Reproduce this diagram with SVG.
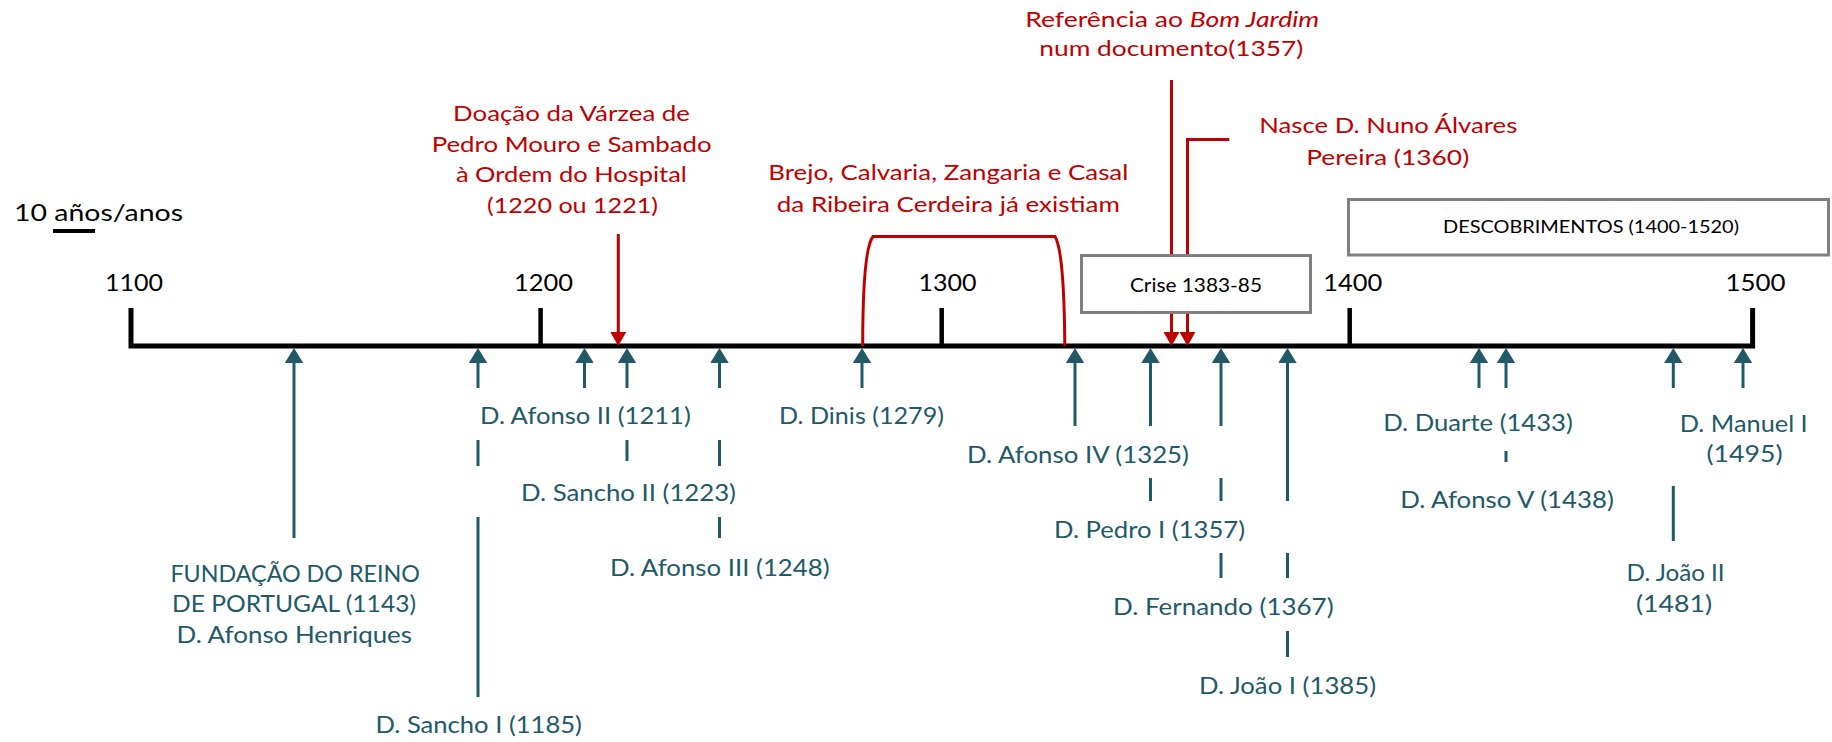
<svg xmlns="http://www.w3.org/2000/svg" width="1832" height="742" viewBox="0 0 1832 742">
<style>
text{font-family:Lato,"Open Sans","Liberation Sans",sans-serif}
.ax{font-size:24px;fill:#000;text-anchor:middle}
.tl{font-size:22.5px;fill:#215968;text-anchor:middle}
.rd{font-size:22px;fill:#C00000;text-anchor:middle}
.bx{fill:#fff;stroke:#808080;stroke-width:3}
.bt{fill:#000;text-anchor:middle}
.ta{stroke:#215968;stroke-width:3;fill:none}
.ra{stroke:#C00000;stroke-width:3;fill:none}
</style>
<defs>
<marker id="th" markerUnits="userSpaceOnUse" markerWidth="20" markerHeight="20" refX="0" refY="9.2" orient="auto" overflow="visible"><path d="M0,0 L15,9.2 L0,18.4 z" fill="#215968"/></marker>
<marker id="rh" markerUnits="userSpaceOnUse" markerWidth="20" markerHeight="20" refX="0" refY="8" orient="auto" overflow="visible"><path d="M0,0 L14,8 L0,16 z" fill="#C00000"/></marker>
</defs>
<rect width="1832" height="742" fill="#fff"/>

<g id="scale">
<text x="14" y="221" font-size="24" fill="#000" textLength="169" lengthAdjust="spacingAndGlyphs">10 años/anos</text>
<line x1="53" y1="231" x2="95" y2="231" stroke="#000" stroke-width="4"/>
</g>

<g id="axis">
<path d="M131,308 V346 H1752.6 V308" fill="none" stroke="#000" stroke-width="5"/>
<line x1="540.6" y1="308" x2="540.6" y2="346" stroke="#000" stroke-width="4.5"/>
<line x1="941.7" y1="308" x2="941.7" y2="346" stroke="#000" stroke-width="4.5"/>
<line x1="1349.7" y1="308" x2="1349.7" y2="346" stroke="#000" stroke-width="4.5"/>
<text class="ax" x="134" y="291" textLength="58" lengthAdjust="spacingAndGlyphs">1100</text>
<text class="ax" x="543.5" y="291" textLength="59" lengthAdjust="spacingAndGlyphs">1200</text>
<text class="ax" x="947.5" y="291" textLength="58" lengthAdjust="spacingAndGlyphs">1300</text>
<text class="ax" x="1352.7" y="291" textLength="59" lengthAdjust="spacingAndGlyphs">1400</text>
<text class="ax" x="1755.4" y="291" textLength="60" lengthAdjust="spacingAndGlyphs">1500</text>
</g>

<g id="connectors">
<!-- red event arrows -->
<line class="ra" x1="618.3" y1="234" x2="618.3" y2="332" marker-end="url(#rh)"/>
<line class="ra" x1="1171.5" y1="80" x2="1171.5" y2="332" marker-end="url(#rh)"/>
<polyline class="ra" points="1229.3,139.5 1187.5,139.5 1187.5,332" marker-end="url(#rh)"/>
<path class="ra" d="M862.7,346 C862.7,300 864,248 873,236.5 L1055,236.5 C1062,248 1064.5,300 1064.8,346"/>
<!-- teal king arrows -->
<line class="ta" x1="294" y1="538" x2="294" y2="363" marker-end="url(#th)"/>
<line class="ta" x1="478" y1="388" x2="478" y2="363" marker-end="url(#th)"/>
<line class="ta" x1="478" y1="440" x2="478" y2="466"/>
<line class="ta" x1="478" y1="517" x2="478" y2="697"/>
<line class="ta" x1="584.5" y1="388" x2="584.5" y2="363" marker-end="url(#th)"/>
<line class="ta" x1="627" y1="388" x2="627" y2="363" marker-end="url(#th)"/>
<line class="ta" x1="627" y1="440" x2="627" y2="461"/>
<line class="ta" x1="719.5" y1="388" x2="719.5" y2="363" marker-end="url(#th)"/>
<line class="ta" x1="719.5" y1="440" x2="719.5" y2="466"/>
<line class="ta" x1="719.5" y1="517" x2="719.5" y2="538"/>
<line class="ta" x1="862" y1="388" x2="862" y2="363" marker-end="url(#th)"/>
<line class="ta" x1="1075" y1="426" x2="1075" y2="363" marker-end="url(#th)"/>
<line class="ta" x1="1150.5" y1="426" x2="1150.5" y2="363" marker-end="url(#th)"/>
<line class="ta" x1="1150.5" y1="478" x2="1150.5" y2="501"/>
<line class="ta" x1="1221" y1="426" x2="1221" y2="363" marker-end="url(#th)"/>
<line class="ta" x1="1221" y1="478" x2="1221" y2="501"/>
<line class="ta" x1="1221" y1="553" x2="1221" y2="578"/>
<line class="ta" x1="1287.5" y1="501" x2="1287.5" y2="363" marker-end="url(#th)"/>
<line class="ta" x1="1287.5" y1="553" x2="1287.5" y2="578"/>
<line class="ta" x1="1287.5" y1="631" x2="1287.5" y2="657"/>
<line class="ta" x1="1479" y1="388" x2="1479" y2="363" marker-end="url(#th)"/>
<line class="ta" x1="1506" y1="388" x2="1506" y2="363" marker-end="url(#th)"/>
<line class="ta" x1="1506" y1="451" x2="1506" y2="462"/>
<line class="ta" x1="1673.3" y1="388" x2="1673.3" y2="363" marker-end="url(#th)"/>
<line class="ta" x1="1673.3" y1="486" x2="1673.3" y2="541"/>
<line class="ta" x1="1743" y1="388" x2="1743" y2="363" marker-end="url(#th)"/>
</g>

<g id="crise">
<rect class="bx" x="1081.5" y="255.5" width="229" height="57"/>
<text class="bt" x="1196" y="291.5" font-size="19.5" textLength="132" lengthAdjust="spacingAndGlyphs">Crise 1383-85</text>
</g>
<g id="descobrimentos">
<rect class="bx" x="1348.5" y="199.5" width="480" height="55.5"/>
<text class="bt" x="1591" y="233.3" font-size="18" textLength="296" lengthAdjust="spacingAndGlyphs">DESCOBRIMENTOS (1400-1520)</text>
</g>

<g id="doacao">
<text class="rd" x="571.5" y="120.7" textLength="237" lengthAdjust="spacingAndGlyphs">Doação da Várzea de</text>
<text class="rd" x="571.7" y="151.7" textLength="280" lengthAdjust="spacingAndGlyphs">Pedro Mouro e Sambado</text>
<text class="rd" x="571.4" y="182.3" textLength="231" lengthAdjust="spacingAndGlyphs">à Ordem do Hospital</text>
<text class="rd" x="572.5" y="213.3" textLength="171" lengthAdjust="spacingAndGlyphs">(1220 ou 1221)</text>
</g>
<g id="brejo">
<text class="rd" x="948.3" y="180" textLength="360" lengthAdjust="spacingAndGlyphs">Brejo, Calvaria,  Zangaria  e Casal</text>
<text class="rd" x="948.3" y="211.7" textLength="343" lengthAdjust="spacingAndGlyphs">da Ribeira Cerdeira já existiam</text>
</g>
<g id="referencia">
<text class="rd" x="1172.2" y="26.7" textLength="294" lengthAdjust="spacingAndGlyphs">Referência ao <tspan font-style="italic">Bom Jardim</tspan></text>
<text class="rd" x="1171.3" y="56" textLength="264" lengthAdjust="spacingAndGlyphs">num documento(1357)</text>
</g>
<g id="nuno">
<text class="rd" x="1388.3" y="133.3" textLength="258" lengthAdjust="spacingAndGlyphs">Nasce D. Nuno Álvares</text>
<text class="rd" x="1387.7" y="165" textLength="163" lengthAdjust="spacingAndGlyphs">Pereira (1360)</text>
</g>

<g id="fundacao">
<text class="tl" x="295.2" y="582.3" textLength="249.6" lengthAdjust="spacingAndGlyphs">FUNDAÇÃO DO REINO</text>
<text class="tl" x="294" y="612" textLength="244" lengthAdjust="spacingAndGlyphs">DE PORTUGAL (1143)</text>
<text class="tl" x="294.3" y="642.5" textLength="235.5" lengthAdjust="spacingAndGlyphs">D. Afonso Henriques</text>
</g>
<g id="sancho1"><text class="tl" x="478.7" y="733" textLength="206.5" lengthAdjust="spacingAndGlyphs">D. Sancho I (1185)</text></g>
<g id="afonso2"><text class="tl" x="585.4" y="424" textLength="210.8" lengthAdjust="spacingAndGlyphs">D. Afonso II (1211)</text></g>
<g id="sancho2"><text class="tl" x="628.5" y="501" textLength="215" lengthAdjust="spacingAndGlyphs">D. Sancho II (1223)</text></g>
<g id="afonso3"><text class="tl" x="719.8" y="576" textLength="219.6" lengthAdjust="spacingAndGlyphs">D. Afonso III (1248)</text></g>
<g id="dinis"><text class="tl" x="861.5" y="424" textLength="165" lengthAdjust="spacingAndGlyphs">D. Dinis (1279)</text></g>
<g id="afonso4"><text class="tl" x="1078" y="463.3" textLength="222" lengthAdjust="spacingAndGlyphs">D. Afonso IV (1325)</text></g>
<g id="pedro1"><text class="tl" x="1149.5" y="538.3" textLength="191" lengthAdjust="spacingAndGlyphs">D. Pedro I (1357)</text></g>
<g id="fernando"><text class="tl" x="1223.3" y="615" textLength="220.6" lengthAdjust="spacingAndGlyphs">D. Fernando (1367)</text></g>
<g id="joao1"><text class="tl" x="1287.5" y="694" textLength="177" lengthAdjust="spacingAndGlyphs">D. João I (1385)</text></g>
<g id="duarte"><text class="tl" x="1478" y="430.7" textLength="189.7" lengthAdjust="spacingAndGlyphs">D. Duarte (1433)</text></g>
<g id="afonso5"><text class="tl" x="1507" y="507.7" textLength="213.7" lengthAdjust="spacingAndGlyphs">D. Afonso V (1438)</text></g>
<g id="manuel1">
<text class="tl" x="1743.7" y="431.7" textLength="128" lengthAdjust="spacingAndGlyphs">D. Manuel I</text>
<text class="tl" x="1744.5" y="461.7" textLength="76" lengthAdjust="spacingAndGlyphs">(1495)</text>
</g>
<g id="joao2">
<text class="tl" x="1675.6" y="580.7" textLength="98" lengthAdjust="spacingAndGlyphs">D. João II</text>
<text class="tl" x="1674" y="611.7" textLength="76" lengthAdjust="spacingAndGlyphs">(1481)</text>
</g>
</svg>
